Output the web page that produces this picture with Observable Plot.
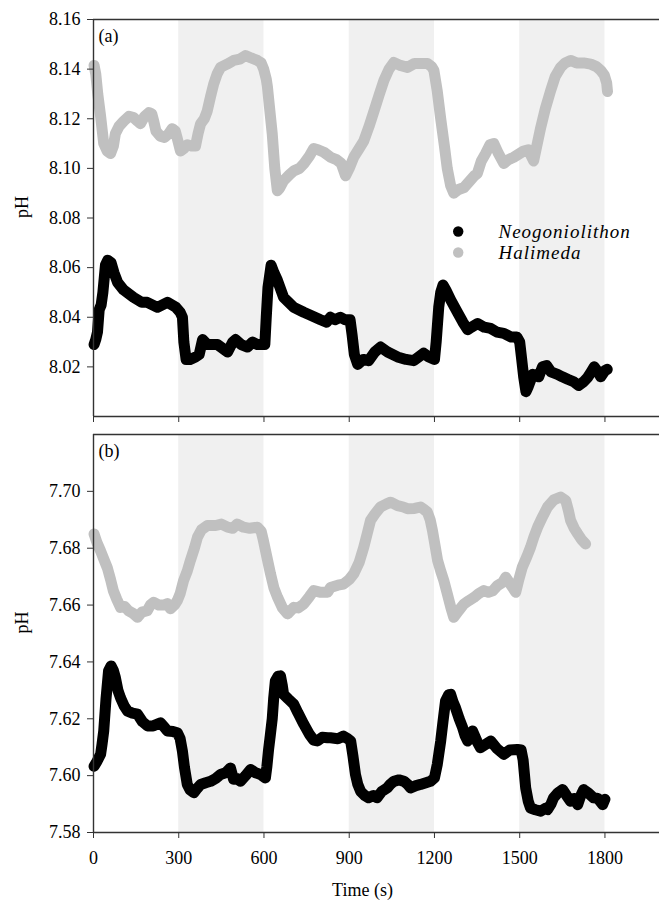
<!DOCTYPE html>
<html><head><meta charset="utf-8">
<script src="https://cdn.jsdelivr.net/npm/d3@7"></script>
<script src="https://cdn.jsdelivr.net/npm/@observablehq/plot@0.6"></script>
<style>body{margin:0;background:#fff} #chart svg{display:block}</style>
</head><body><div id="chart"></div>
<script>
// ---- data ----
const seriesNames = ["Neogoniolithon", "Halimeda"];
const seriesColors = ["#000000", "#c0c0c0"];
const darkStart = [300, 900, 1500];
const darkEnd = [600, 1200, 1800];
const xTicks = [0, 300, 600, 900, 1200, 1500, 1800];
const yTicksA = [8.02, 8.04, 8.06, 8.08, 8.10, 8.12, 8.14, 8.16];
const yTicksB = [7.58, 7.60, 7.62, 7.64, 7.66, 7.68, 7.70];
const yDomainA = [8.00, 8.16];
const yDomainB = [7.58, 7.72];

// panel (a): Neogoniolithon [time s, pH]
const neoA = [[2,8.029],[8,8.031],[14,8.034],[20,8.043],[27,8.045],[33,8.05],[42,8.061],[50,8.063],[62,8.062],[72,8.058],[85,8.054],[106,8.051],[141,8.048],[170,8.046],[189,8.046],[225,8.044],[260,8.046],[290,8.044],[305,8.042],[313,8.04],[318,8.030],[326,8.023],[340,8.023],[359,8.024],[372,8.025],[384,8.031],[401,8.029],[436,8.029],[460,8.027],[472,8.026],[490,8.030],[500,8.031],[520,8.029],[542,8.028],[560,8.030],[577,8.029],[603,8.029],[608,8.040],[614,8.052],[625,8.061],[635,8.058],[647,8.055],[669,8.048],[705,8.044],[740,8.042],[760,8.041],[799,8.039],[820,8.038],[834,8.040],[850,8.039],[869,8.040],[885,8.039],[903,8.039],[910,8.033],[918,8.025],[930,8.021],[950,8.023],[968,8.0225],[990,8.026],[1010,8.028],[1035,8.026],[1070,8.024],[1100,8.023],[1127,8.0225],[1162,8.0255],[1180,8.024],[1200,8.023],[1206,8.030],[1215,8.044],[1222,8.050],[1230,8.053],[1240,8.051],[1257,8.047],[1281,8.042],[1300,8.038],[1317,8.035],[1330,8.036],[1352,8.0375],[1375,8.036],[1398,8.0355],[1420,8.034],[1444,8.0335],[1470,8.032],[1490,8.032],[1500,8.030],[1506,8.024],[1514,8.016],[1522,8.010],[1530,8.012],[1546,8.017],[1567,8.016],[1580,8.020],[1595,8.0205],[1610,8.018],[1633,8.017],[1650,8.016],[1669,8.015],[1690,8.014],[1707,8.0125],[1725,8.014],[1739,8.0157],[1752,8.018],[1762,8.020],[1775,8.018],[1785,8.016],[1800,8.0185],[1808,8.019]];
// panel (a): Halimeda
const halA = [[2,8.1415],[8,8.138],[15,8.130],[25,8.121],[36,8.110],[48,8.107],[60,8.106],[70,8.109],[77,8.114],[90,8.117],[106,8.119],[125,8.121],[141,8.1205],[155,8.119],[165,8.118],[180,8.121],[195,8.1225],[205,8.122],[212,8.119],[220,8.115],[235,8.113],[250,8.1125],[265,8.114],[277,8.116],[288,8.115],[295,8.112],[306,8.107],[318,8.108],[330,8.1095],[345,8.109],[359,8.109],[368,8.114],[377,8.118],[390,8.120],[400,8.123],[412,8.129],[423,8.134],[435,8.138],[447,8.1407],[470,8.142],[493,8.1435],[515,8.144],[535,8.1455],[555,8.1445],[577,8.1435],[590,8.1425],[599,8.140],[608,8.136],[612,8.133],[620,8.124],[629,8.114],[638,8.100],[647,8.091],[655,8.092],[669,8.095],[690,8.0975],[705,8.099],[725,8.1],[741,8.102],[760,8.105],[775,8.108],[790,8.1075],[811,8.1065],[834,8.1045],[855,8.1035],[872,8.102],[887,8.097],[900,8.100],[916,8.1045],[935,8.108],[951,8.111],[970,8.117],[987,8.123],[1005,8.1295],[1022,8.1354],[1040,8.140],[1057,8.1427],[1080,8.1415],[1105,8.1407],[1130,8.1423],[1150,8.1423],[1175,8.1423],[1190,8.141],[1198,8.1395],[1210,8.131],[1222,8.120],[1235,8.109],[1245,8.100],[1257,8.093],[1268,8.090],[1285,8.0915],[1304,8.0923],[1325,8.095],[1340,8.097],[1351,8.098],[1365,8.103],[1380,8.106],[1395,8.1095],[1409,8.110],[1425,8.106],[1444,8.102],[1460,8.1035],[1479,8.1045],[1500,8.106],[1514,8.107],[1530,8.1075],[1549,8.103],[1560,8.109],[1574,8.1165],[1590,8.124],[1609,8.1314],[1625,8.137],[1644,8.1407],[1660,8.1425],[1679,8.1435],[1700,8.1425],[1725,8.1425],[1750,8.142],[1770,8.141],[1785,8.1395],[1798,8.1375],[1806,8.1345],[1809,8.131]];
// panel (b): Neogoniolithon
const neoB = [[2,7.6033],[12,7.605],[25,7.6075],[30,7.611],[36,7.6157],[44,7.627],[53,7.6369],[62,7.6386],[70,7.637],[77,7.6345],[86,7.630],[95,7.6274],[108,7.6245],[120,7.6227],[137,7.622],[155,7.6216],[172,7.619],[190,7.6175],[210,7.6175],[236,7.6186],[250,7.617],[260,7.6157],[280,7.6155],[295,7.6151],[305,7.613],[313,7.6086],[320,7.603],[330,7.5969],[340,7.595],[353,7.594],[365,7.5955],[377,7.5969],[395,7.5975],[412,7.598],[430,7.599],[447,7.6004],[465,7.601],[482,7.6027],[493,7.5987],[505,7.599],[517,7.598],[535,7.600],[553,7.6022],[570,7.601],[588,7.6004],[605,7.5992],[610,7.603],[616,7.609],[622,7.614],[629,7.620],[634,7.627],[640,7.6333],[650,7.635],[658,7.6351],[664,7.632],[669,7.6286],[685,7.627],[705,7.6251],[720,7.622],[740,7.6181],[760,7.6145],[775,7.6125],[788,7.6122],[805,7.6135],[824,7.6133],[834,7.6133],[860,7.613],[880,7.6139],[895,7.613],[905,7.6122],[913,7.607],[922,7.6004],[930,7.597],[940,7.5945],[955,7.593],[968,7.5922],[985,7.593],[998,7.5922],[1015,7.5945],[1034,7.5957],[1045,7.597],[1057,7.598],[1075,7.5985],[1093,7.598],[1105,7.597],[1116,7.5957],[1135,7.5965],[1151,7.5969],[1170,7.5975],[1186,7.598],[1200,7.5992],[1210,7.604],[1222,7.6122],[1230,7.619],[1239,7.6263],[1250,7.6285],[1257,7.6286],[1265,7.626],[1274,7.6239],[1287,7.620],[1299,7.6169],[1308,7.614],[1317,7.6122],[1325,7.6145],[1334,7.6157],[1350,7.612],[1362,7.6098],[1380,7.611],[1398,7.6122],[1420,7.6095],[1444,7.6075],[1465,7.609],[1492,7.6092],[1505,7.609],[1512,7.6055],[1521,7.5957],[1530,7.591],[1538,7.5886],[1555,7.588],[1574,7.5875],[1590,7.5885],[1598,7.5881],[1610,7.590],[1619,7.5922],[1635,7.594],[1651,7.5951],[1665,7.593],[1679,7.591],[1692,7.592],[1704,7.5898],[1715,7.593],[1725,7.5951],[1740,7.594],[1760,7.5922],[1775,7.592],[1792,7.5898],[1800,7.5917]];
// panel (b): Halimeda
const halB = [[2,7.685],[12,7.682],[25,7.679],[37,7.676],[49,7.673],[60,7.669],[70,7.665],[82,7.662],[95,7.6592],[110,7.6595],[123,7.658],[140,7.657],[155,7.6557],[170,7.6575],[189,7.658],[200,7.660],[212,7.661],[230,7.660],[247,7.66],[260,7.6605],[271,7.6587],[285,7.660],[295,7.6616],[305,7.664],[317,7.6686],[330,7.672],[341,7.6757],[355,7.680],[366,7.6839],[380,7.6865],[401,7.688],[430,7.688],[450,7.6885],[472,7.6874],[490,7.687],[505,7.6885],[528,7.6874],[550,7.687],[577,7.6874],[590,7.686],[598,7.6827],[610,7.677],[623,7.671],[635,7.666],[648,7.6627],[665,7.659],[683,7.6569],[705,7.6592],[720,7.659],[740,7.6604],[760,7.663],[775,7.6651],[800,7.6645],[824,7.6645],[834,7.6662],[860,7.667],[880,7.6674],[900,7.669],[916,7.671],[935,7.675],[951,7.6803],[963,7.685],[975,7.6898],[990,7.692],[1010,7.6945],[1030,7.6955],[1046,7.6962],[1070,7.695],[1090,7.6945],[1105,7.6939],[1130,7.694],[1151,7.6945],[1165,7.6935],[1175,7.6927],[1185,7.690],[1193,7.6862],[1202,7.681],[1211,7.6757],[1222,7.672],[1233,7.6686],[1245,7.664],[1258,7.659],[1268,7.6557],[1285,7.658],[1304,7.6604],[1320,7.6615],[1339,7.6627],[1355,7.664],[1374,7.6651],[1390,7.6645],[1405,7.665],[1421,7.6668],[1440,7.668],[1451,7.6698],[1463,7.668],[1475,7.6662],[1486,7.6645],[1497,7.669],[1509,7.6733],[1525,7.677],[1538,7.6803],[1550,7.684],[1563,7.6874],[1580,7.691],[1598,7.6945],[1620,7.697],[1644,7.698],[1662,7.6968],[1672,7.693],[1679,7.6898],[1692,7.687],[1704,7.6851],[1718,7.683],[1732,7.6815]];

// ---- drawing ----
const bands = darkStart.map((s, i) => ({start: s, end: darkEnd[i]}));
const FONT = '"Liberation Serif", "Times New Roman", serif';
const axisColor = "#333";

function panel({height, marginTop, marginBottom, yDomain, yTicks, tag, neo, hal, bottom, legend}) {
  const lineOpts = {x: d => d[0], y: d => d[1], strokeWidth: 11, strokeLinecap: "round", strokeLinejoin: "round"};
  const marks = [
    Plot.rect(bands, {x1: "start", x2: "end", fill: "#f0f0f0"}),
    Plot.line(hal, {...lineOpts, stroke: seriesColors[1]}),
    Plot.line(neo, {...lineOpts, stroke: seriesColors[0]}),
    Plot.ruleX([0], {stroke: axisColor, strokeWidth: 1.4}),
    Plot.ruleY([yDomain[0]], {stroke: axisColor, strokeWidth: 1.4}),
    Plot.ruleY([yDomain[1]], {stroke: axisColor, strokeWidth: 1.4}),
    Plot.axisY(yTicks, {tickSize: 6, tickPadding: 7, tickFormat: d3.format(".2f"), label: null, stroke: axisColor}),
    bottom
      ? Plot.axisX(xTicks, {tickSize: 6, tickPadding: 13, tickFormat: d3.format("d"), label: null, stroke: axisColor})
      : Plot.axisX(xTicks, {tickSize: 6, tickFormat: () => "", label: null, stroke: axisColor}),
    Plot.text(["pH"], {text: d => d, frameAnchor: "left", dx: -71, rotate: -90}),
    Plot.text([tag], {text: d => d, frameAnchor: "top-left", textAnchor: "start", lineAnchor: "top", dx: 5, dy: 10})
  ];
  if (bottom) {
    marks.push(Plot.text(["Time (s)"], {text: d => d, frameAnchor: "bottom", lineAnchor: "top", dx: -14, dy: 51}));
  }
  if (legend) {
    seriesNames.forEach((name, i) => {
      marks.push(Plot.dot([name], {frameAnchor: "top-left", dx: 364.7, dy: 212 + i * 21, r: 5.2, fill: seriesColors[i], stroke: "none"}));
      marks.push(Plot.text([name], {text: d => d, frameAnchor: "top-left", dx: 405, dy: 212 + i * 21, textAnchor: "start", lineAnchor: "middle", fontStyle: "italic", fontSize: 19, className: "legend-text"}));
    });
  }
  return Plot.plot({
    width: 659,
    height,
    marginTop,
    marginBottom,
    marginLeft: 93,
    marginRight: 0,
    style: {fontFamily: FONT, fontSize: "18px", color: "#000", background: "#fff"},
    x: {domain: [0, 1992], label: null},
    y: {domain: yDomain, label: null},
    marks
  });
}

const panelA = panel({height: 425, marginTop: 19, marginBottom: 9, yDomain: yDomainA, yTicks: yTicksA, tag: "(a)", neo: neoA, hal: halA, bottom: false, legend: true});
const panelB = panel({height: 478, marginTop: 9, marginBottom: 71, yDomain: yDomainB, yTicks: yTicksB, tag: "(b)", neo: neoB, hal: halB, bottom: true, legend: false});
const chart = document.getElementById("chart");
chart.append(panelA, panelB);
d3.select(panelA).selectAll(".legend-text text").attr("letter-spacing", "1px");
</script></body></html>
